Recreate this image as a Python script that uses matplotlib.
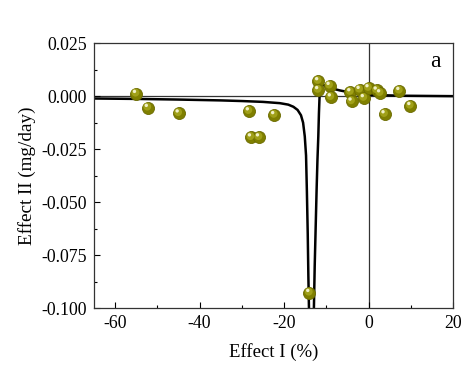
import numpy as np
import matplotlib.pyplot as plt
from matplotlib.transforms import offset_copy

plt.rcParams['font.family'] = ['Liberation Serif', 'DejaVu Serif']

# measured points
effect_i = [-55.0, -52.2, -44.9, -28.3, -27.8, -25.9, -22.3, -14.0,
            -11.9, -11.9, -9.2, -8.9, -4.3, -4.0, -2.1, -1.1, 0.0,
            1.95, 2.75, 3.8, 7.3, 9.9]
effect_ii = [0.0012, -0.0054, -0.0080, -0.0070, -0.0193, -0.0193, -0.0088, -0.0927,
             0.0072, 0.0030, 0.0050, -0.0004, 0.0020, -0.0024, 0.0031, -0.0008, 0.0039,
             0.0028, 0.0015, -0.0084, 0.0026, -0.0045]

# fitted curve (two branches)
fit_left_x = [-65, -55, -45, -35, -30, -25, -21, -19, -17.8, -16.8, -16.0,
              -15.5, -15.1, -14.8, -14.6, -14.4, -14.25, -14.1]
fit_left_y = [-0.0011, -0.0013, -0.0016, -0.0020, -0.0023, -0.0027, -0.0033, -0.0040,
              -0.0050, -0.0065, -0.0090, -0.0125, -0.0190, -0.0280, -0.0450, -0.0650,
              -0.0850, -0.1010]
fit_right_x = [-12.95, -12.75, -12.5, -12.3, -12.1, -11.9, -11.75, -11.6, -11.5,
               -11.3, -10.5, -9.2, -6.8, -4.5, -2.0, 2.0, 8.0, 14.0, 20.0]
fit_right_y = [-0.1010, -0.0800, -0.0600, -0.0440, -0.0300, -0.0190, -0.0080, 0.0000,
               0.0055, 0.0062, 0.0050, 0.0039, 0.0027, 0.0018, 0.0010, 0.0005, 0.0002,
               0.0001, 0.0000]

fig = plt.figure(figsize=(4.74, 3.69), dpi=100)
ax = fig.add_axes([0.198, 0.165, 0.758, 0.718])

ax.axhline(0, color='#333333', lw=0.9, zorder=1)
ax.axvline(0, color='#333333', lw=0.9, zorder=1)

ax.plot(fit_left_x, fit_left_y, color='black', lw=1.8, zorder=2)
ax.plot(fit_right_x, fit_right_y, color='black', lw=1.8, zorder=2)

ax.scatter(effect_i, effect_ii, s=75, c='#7f7f00', edgecolors='#6b6b00', linewidths=0.6, zorder=3)
ax.scatter(effect_i, effect_ii, s=32, c='#a0a018', edgecolors='none', zorder=4,
           transform=offset_copy(ax.transData, fig=fig, x=-0.5, y=0.7, units='points'))
ax.scatter(effect_i, effect_ii, s=6, c='#f0f0c8', edgecolors='none', zorder=5,
           transform=offset_copy(ax.transData, fig=fig, x=-1.2, y=1.6, units='points'))

ax.set_xlim(-65, 20)
ax.set_ylim(-0.1, 0.025)
ax.set_xticks([-60, -40, -20, 0, 20])
ax.set_xticks([-50, -30, -10, 10], minor=True)
ax.set_yticks([0.025, 0.0, -0.025, -0.05, -0.075, -0.1])
ax.set_yticks([0.0125, -0.0125, -0.0375, -0.0625, -0.0875], minor=True)
ax.set_yticklabels(['0.025', '0.000', '-0.025', '-0.050', '-0.075', '-0.100'])
ax.set_xticklabels(['-60', '-40', '-20', '0', '20'])
ax.tick_params(which='major', direction='in', length=4, width=0.8, labelsize=12.8, pad=5)
ax.tick_params(which='minor', direction='in', length=2.5, width=0.8)
for s in ax.spines.values():
    s.set_color('#333333')
    s.set_linewidth(0.9)

ax.set_xlabel('Effect I (%)', fontsize=13.5, labelpad=8)
ax.set_ylabel('Effect II (mg/day)', fontsize=13.8, labelpad=4)
ax.text(0.965, 0.93, 'a', transform=ax.transAxes, fontsize=17, ha='right', va='center')

fig.savefig('out.png', dpi=100)
